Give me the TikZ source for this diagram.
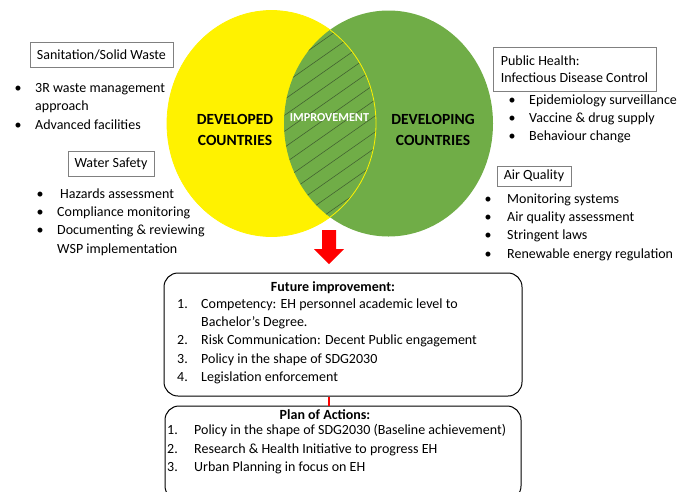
\documentclass[tikz,border=0pt]{standalone}
\usepackage{fontspec}
\setmainfont{Carlito}
\usetikzlibrary{positioning, calc}

\definecolor{venngreen}{HTML}{70AD47}
\definecolor{hatchgreen}{HTML}{415F30}

\begin{document}
\begin{tikzpicture}[x=1pt, y=-1pt, font=\fontsize{14}{18.5}\selectfont,
		tagbox/.style={draw=black!50, line width=0.9pt, inner sep=0pt},
		item/.style={anchor=mid west, inner sep=0pt},
		dot/.style={anchor=mid, inner sep=0pt},
		roundbox/.style={draw, line width=1pt, rounded corners=14pt, inner sep=0pt},
		boxtitle/.style={font=\fontsize{14}{18.5}\selectfont\bfseries},
		vennlabel/.style={font=\bfseries\fontsize{15.5}{21}\selectfont, align=center}]
		\useasboundingbox (0,0) rectangle (679,491);
		% the two sets, green laid over yellow
		\fill[yellow] (271.5,123.5) ellipse [x radius=104.5pt, y radius=113pt];
		\fill[venngreen] (388.5,123.5) ellipse [x radius=104.5pt, y radius=113pt];
		\begin{scope}
			\clip (271.5,123.5) ellipse [x radius=104.5pt, y radius=113pt];
			\clip (388.5,123.5) ellipse [x radius=104.5pt, y radius=113pt];
			\foreach \k in {-11,...,11}
				\draw[hatchgreen, line width=0.55pt] (250,{123.5+\k*16}) -- ++(160,-112);
		\end{scope}
		\draw[yellow, line width=0.8pt] (271.5,123.5) ellipse [x radius=104.5pt, y radius=113pt];
		\node[vennlabel] (developed) at (235,129.5) {DEVELOPED\\COUNTRIES};
		\node[vennlabel] (developing) at (433,129.5) {DEVELOPING\\COUNTRIES};
		\node[font=\bfseries\fontsize{12.2}{14}\selectfont, text=white] (improve) at (329.5,118) {IMPROVEMENT};

		% left column
		\node[tagbox, minimum width=143pt, minimum height=25pt] (sanit) at (101.5,54.5) {Sanitation/Solid Waste};
		\foreach \y in {90,127} \node[dot] (sdot\y) at (18,\y) {\textbullet};
		\foreach \y/\t [count=\i] in {90/3R waste management, 108/approach, 127/Advanced facilities}
			\node[item] (sanit\i) at (35,\y) {\t};
		\node[tagbox, minimum width=86pt, minimum height=25pt] (water) at (111,163.5) {Water Safety};
		\foreach \y in {196,214,232} \node[dot] (wdot\y) at (40,\y) {\textbullet};
		\node[item] (water1) at (60,196) {Hazards assessment};
		\foreach \y/\t [count=\i from 2] in {214/Compliance monitoring, 232/Documenting \& reviewing, 251/WSP implementation}
			\node[item] (water\i) at (57,\y) {\t};

		% right column
		\node[tagbox, minimum width=163pt, minimum height=44pt, align=left,
			font=\fontsize{14}{17}\selectfont] (health) at (574.5,69) {Public Health:\\Infectious Disease Control};
		\foreach \y/\t [count=\i] in {102/Epidemiology surveillance, 120/Vaccine \& drug supply, 138/Behaviour change} {
			\node[dot] (hdot\i) at (512,\y) {\textbullet};
			\node[item] (health\i) at (529,\y) {\t};
		}
		\node[tagbox, minimum width=74pt, minimum height=20pt] (air) at (534,176) {Air Quality};
		\foreach \y/\t [count=\i] in {201/Monitoring systems, 219/Air quality assessment, 237/Stringent laws, 256/Renewable energy regulation} {
			\node[dot] (adot\i) at (488,\y) {\textbullet};
			\node[item] (air\i) at (507,\y) {\t};
		}

		% red arrow down to the boxes
		\coordinate (tip) at (329,264);
		\fill[red] (322,230) -- (336,230) -- (336,249) -- (344,249) -- (tip) -- (314,249) -- (322,249) --cycle;

		\node[roundbox, minimum width=358pt, minimum height=123pt] (future) at (343,334.5) {};
		\node[boxtitle] (futtitle) at (333,288) {Future improvement:};
		\foreach \y/\n/\t [count=\i] in {306/1./Competency: EH personnel academic level to, 324//Bachelor’s Degree., 342/2./Risk Communication: Decent Public engagement, 361/3./Policy in the shape of SDG2030, 379/4./Legislation enforcement} {
			\node[item] (futnum\i) at (177,\y) {\n};
			\node[item] (fut\i) at (201,\y) {\t};
		}

		\node[roundbox, minimum width=356pt, minimum height=94pt] (plan) at (343,453) {};
		\draw[red, line width=2pt] (future.south -| tip) -- (plan.north -| tip);
		\node[boxtitle] (plantitle) at (325,415) {Plan of Actions:};
		\foreach \y/\t [count=\i] in {432/Policy in the shape of SDG2030 (Baseline achievement), 451/Research \& Health Initiative to progress EH, 469/Urban Planning in focus on EH} {
			\node[item] (plannum\i) at (167,\y) {\i.};
			\node[item] (plan\i) at (194,\y) {\t};
		}
	\end{tikzpicture}
\end{document}
